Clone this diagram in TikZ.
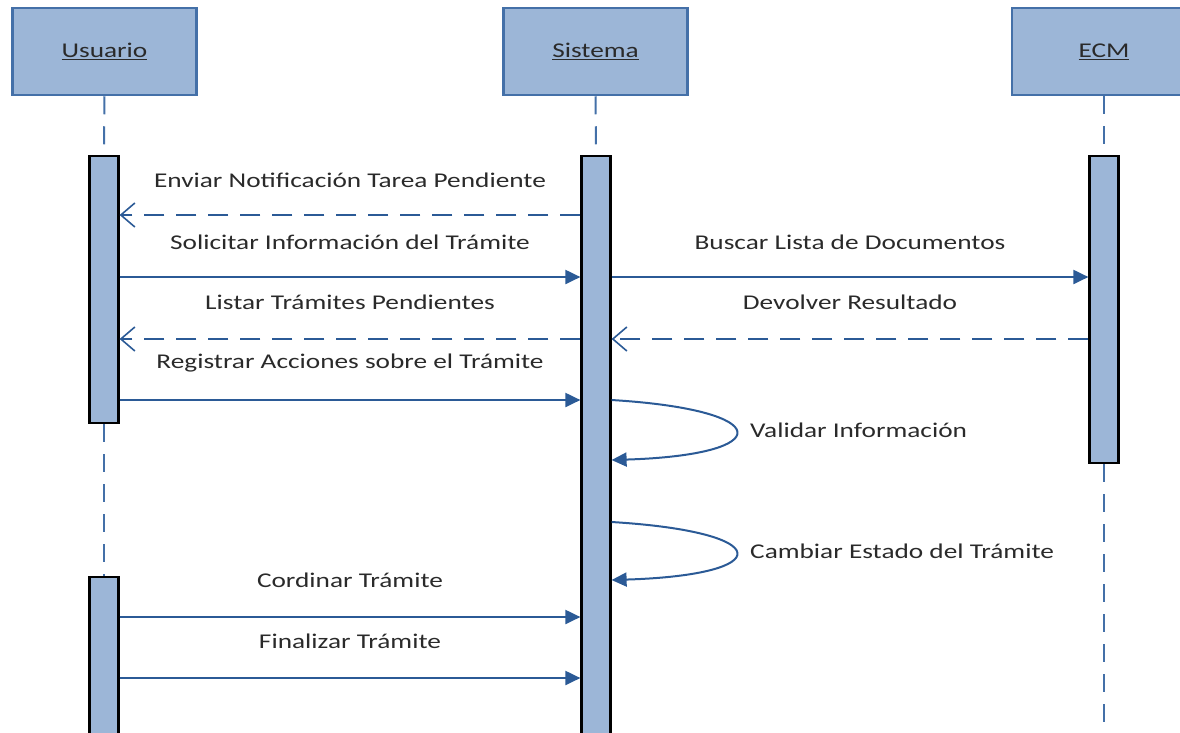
\documentclass[tikz,border=0pt]{standalone}
\usepackage{fontspec}
\setmainfont{Carlito}[FakeStretch=1.3]
\usetikzlibrary{arrows.meta}
\definecolor{boxfill}{HTML}{9CB6D7}
\definecolor{boxline}{HTML}{4470A8}
\definecolor{msg}{HTML}{2B5A96}
\definecolor{txt}{HTML}{2A2A2A}
\begin{document}
\begin{tikzpicture}[x=1pt,y=-1pt,
  head/.style={draw=boxline, fill=boxfill, line width=2.5pt, minimum width=184pt, minimum height=87pt, inner sep=0pt, font=\fontsize{21}{25}\selectfont, text=txt},
  act/.style={draw=black, fill=boxfill, line width=2.2pt, minimum width=29pt, inner sep=0pt, anchor=north},
  life/.style={draw=boxline, line width=2pt, dash pattern=on 18pt off 12pt},
  callmsg/.style={draw=msg, line width=2pt, -{Triangle[length=15pt,width=14pt]}},
  retmsg/.style={draw=msg, line width=2pt, dash pattern=on 20pt off 12pt, -{Straight Barb[length=14pt,width=24pt,line width=1.6pt]}},
  lbl/.style={font=\fontsize{21}{25}\selectfont, text=txt, inner sep=0pt}]
\useasboundingbox (0,0) rectangle (1180,732);
\clip (0,0) rectangle (1180,732);
% heads
\node[head] (usuario) at (104.5,51.5) {\underline{Usuario}};
\node[head] (sistema) at (595.5,51.5) {\underline{Sistema}};
\node[head] (ecm) at (1104,51.5) {\underline{ECM}};
% activations
\node[act, minimum height=267pt] (uact1) at (104,155) {};
\node[act, minimum height=180pt] (uact2) at (104,576) {};
\node[act, minimum height=600pt] (sact) at (596,155) {};
\node[act, minimum height=307pt] (eact) at (1104,155) {};
\coordinate (eend) at (1104,745);
% lifelines
\draw[life] (usuario.south) -- (uact1.north);
\draw[life] (uact1.south) -- (uact2.north);
\draw[life] (sistema.south) -- (sact.north);
\draw[life] (ecm.south) -- (eact.north);
\draw[life] (eact.south) -- (eend);
% messages
\draw[retmsg] (sact.west |- 0,215) -- node[lbl, midway, yshift=35pt] (m1) {Enviar Notificación Tarea Pendiente} (uact1.east |- 0,215);
\draw[callmsg] (uact1.east |- 0,277) -- node[lbl, midway, yshift=35pt] (m2) {Solicitar Información del Trámite} (sact.west |- 0,277);
\draw[callmsg] (sact.east |- 0,277) -- node[lbl, midway, yshift=35pt] (m3) {Buscar Lista de Documentos} (eact.west |- 0,277);
\draw[retmsg] (sact.west |- 0,339) -- node[lbl, midway, yshift=37pt] (m4) {Listar Trámites Pendientes} (uact1.east |- 0,339);
\draw[retmsg] (eact.west |- 0,339) -- node[lbl, midway, yshift=37pt] (m5) {Devolver Resultado} (sact.east |- 0,339);
\draw[callmsg] (uact1.east |- 0,400) -- node[lbl, midway, yshift=37pt] (m6) {Registrar Acciones sobre el Trámite} (sact.west |- 0,400);
\draw[callmsg] (sact.east |- 0,400) .. controls (777,410) and (777,455) .. (sact.east |- 0,460);
\node[lbl, anchor=west] (m7) at (750,430) {Validar Información};
\draw[callmsg] (sact.east |- 0,522) .. controls (777,532) and (777,575) .. (sact.east |- 0,580);
\node[lbl, anchor=west] (m8) at (750,551) {Cambiar Estado del Trámite};
\draw[callmsg] (uact2.east |- 0,617) -- node[lbl, midway, yshift=37pt] (m9) {Cordinar Trámite} (sact.west |- 0,617);
\draw[callmsg] (uact2.east |- 0,678) -- node[lbl, midway, yshift=37pt] (m10) {Finalizar Trámite} (sact.west |- 0,678);
\end{tikzpicture}
\end{document}
